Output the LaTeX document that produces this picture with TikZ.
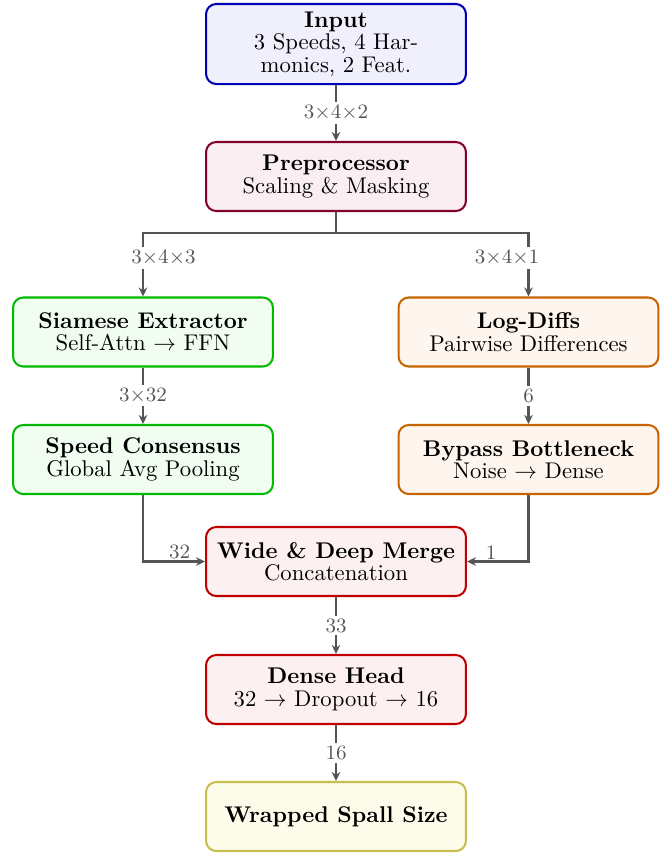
\documentclass[tikz,border=0pt]{standalone}
\usetikzlibrary{arrows.meta}
\definecolor{cin}{RGB}{0,0,180}
\definecolor{cinf}{RGB}{240,240,253}
\definecolor{cpre}{RGB}{128,0,50}
\definecolor{cpref}{RGB}{250,238,243}
\definecolor{cgrn}{RGB}{0,185,0}
\definecolor{cgrnf}{RGB}{240,253,240}
\definecolor{corg}{RGB}{200,100,0}
\definecolor{corgf}{RGB}{254,246,238}
\definecolor{cred}{RGB}{190,0,0}
\definecolor{credf}{RGB}{253,240,240}
\definecolor{cyel}{RGB}{200,190,80}
\definecolor{cyelf}{RGB}{253,251,234}
\definecolor{cline}{RGB}{85,85,85}
\tikzset{
  box/.style={draw, line width=0.9pt, rounded corners=4.5pt, minimum width=114.5pt,
    minimum height=30.4pt, align=center, font=\fontsize{10pt}{9.9pt}\selectfont},
  conn/.style={draw=cline, line width=0.9pt, -{Stealth[length=4pt,width=3.8pt]}},
  lbl/.style={font=\small, text=cline, fill=white, inner sep=1.2pt},
  lblb/.style={font=\small, text=cline, inner sep=1pt, anchor=south}
}
\begin{document}
\begin{tikzpicture}[x=0.4405pt, y=-0.4405pt]
\useasboundingbox (0,0) rectangle (667,853);
\node[box, draw=cin, fill=cinf] (in) at (336,44) {\textbf{Input}\\3 Speeds, 4 Har-\\monics, 2 Feat.};
\node[box, draw=cpre, fill=cpref] (pre) at (336,176.5) {\textbf{Preprocessor}\\Scaling \& Masking};
\node[box, draw=cgrn, fill=cgrnf] (sia) at (143,332) {\textbf{Siamese Extractor}\\Self-Attn $\rightarrow$ FFN};
\node[box, draw=corg, fill=corgf] (log) at (528.5,332) {\textbf{Log-Diffs}\\Pairwise Differences};
\node[box, draw=cgrn, fill=cgrnf] (spd) at (143,459.5) {\textbf{Speed Consensus}\\Global Avg Pooling};
\node[box, draw=corg, fill=corgf] (byp) at (528.5,459.5) {\textbf{Bypass Bottleneck}\\Noise $\rightarrow$ Dense};
\node[box, draw=cred, fill=credf] (mrg) at (336,561.5) {\textbf{Wide \& Deep Merge}\\Concatenation};
\node[box, draw=cred, fill=credf] (den) at (336,689.5) {\textbf{Dense Head}\\32 $\rightarrow$ Dropout $\rightarrow$ 16};
\node[box, draw=cyel, fill=cyelf] (out) at (336,816.5) {\textbf{Wrapped Spall Size}};

\coordinate (j) at (336,233);
\draw[conn] (in) -- node[lbl] (l1) {3$\times$4$\times$2} (pre);
\draw[conn] (pre.south) -- (j) -| (sia.north);
\draw[conn] (pre.south) -- (j) -| (log.north);
\node[lbl] (l2) at (163.5,258) {3$\times$4$\times$3};
\node[lbl] (l3) at (507,258) {3$\times$4$\times$1};
\draw[conn] (sia) -- node[lbl] (l4) {3$\times$32} (spd);
\draw[conn] (log) -- node[lbl] (l5) {6} (byp);
\draw[conn] (spd.south) |- (mrg.west);
\draw[conn] (byp.south) |- (mrg.east);
\node[lblb] (l6) at (179.5,562) {32};
\node[lblb] (l7) at (491,562) {1};
\draw[conn] (mrg) -- node[lbl] (l8) {33} (den);
\draw[conn] (den) -- node[lbl] (l9) {16} (out);
\end{tikzpicture}
\end{document}
